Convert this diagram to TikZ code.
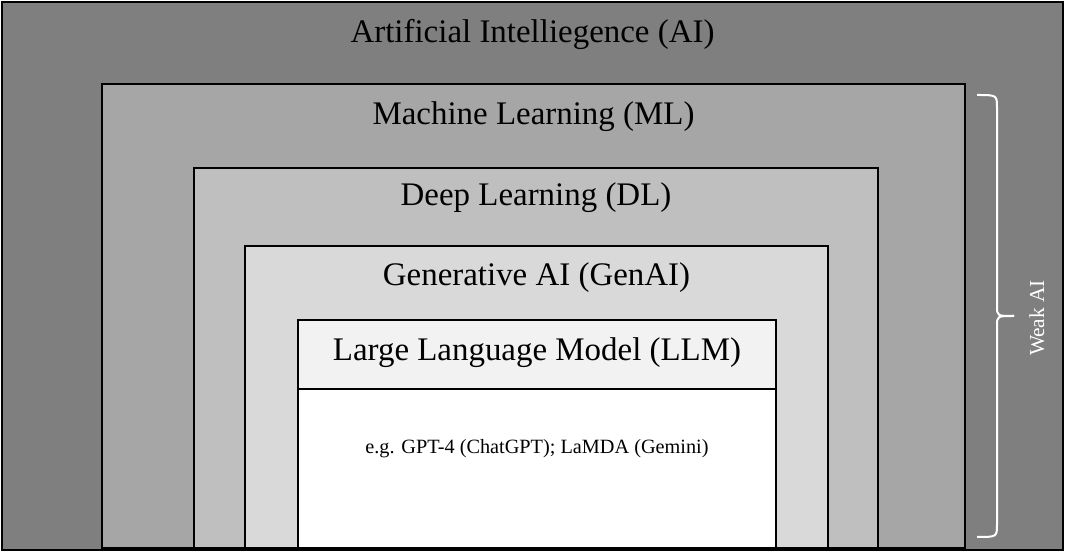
\documentclass[tikz,border=0pt]{standalone}
\usepackage{fontspec}
\setmainfont{Liberation Serif}
\usepackage{tikz}
\usetikzlibrary{positioning}
\definecolor{aigray}{HTML}{7F7F7F}
\definecolor{mlgray}{HTML}{A6A6A6}
\definecolor{dlgray}{HTML}{BFBFBF}
\definecolor{gengray}{HTML}{D9D9D9}
\definecolor{llmgray}{HTML}{F2F2F2}
\tikzset{%
  layer/.style   = {draw, line width=1.5pt, rectangle, inner sep=0pt,
    outer sep=0pt, anchor=north west},
  title/.style   = {font=\fontsize{24.7}{28}\selectfont, anchor=base, inner sep=0pt}, % layer names
  example/.style = {font=\fontsize{15.2}{18}\selectfont, anchor=base, inner sep=0pt},
  weak/.style    = {font=\fontsize{16}{18}\selectfont, text=white, rotate=90,
    anchor=base, inner sep=0pt}
}

\begin{document}
\begin{tikzpicture}[x=0.75pt, y=-0.75pt]

  \useasboundingbox (0,0) rectangle (1065,552);

  % nested layers
  \draw node at (2,2) [layer, fill=aigray, minimum width=795.75pt, minimum height=411pt] (ai) {};
  \draw node at (102,84) [layer, fill=mlgray, minimum width=647.25pt, minimum height=348pt] (ml) {};
  \draw node at (194,168) [layer, fill=dlgray, minimum width=513pt, minimum height=285pt] (dl) {};
  \draw node at (245,246) [layer, fill=gengray, minimum width=437.25pt, minimum height=226.5pt] (genai) {};
  \draw node at (298,320) [layer, fill=llmgray, minimum width=358.5pt, minimum height=51.75pt] (llm) {};
  \draw node at (298,389) [layer, fill=white, minimum width=358.5pt, minimum height=119.25pt] (llmbody) {};

  \draw node at (532.5,42.5) [title] (aiT) {Artificial Intelliegence (AI)};
  \draw node at (533.5,124.5) [title] (mlT) {Machine Learning (ML)};
  \draw node at (536,206) [title] (dlT) {Deep Learning (DL)};
  \draw node at (536.5,286) [title] (genaiT) {Generative AI (GenAI)};
  \draw node at (537,361) [title] (llmT) {Large Language Model (LLM)};
  \draw node at (537,454) [example] (egT) {e.g. GPT-4 (ChatGPT); LaMDA (Gemini)};

  % brace for weak AI
  \coordinate (braceTop) at (977,95);
  \coordinate (braceTip) at (1014,316);
  \coordinate (braceBot) at (977,537);
  \draw[white, line width=1.5pt] (braceTop) .. controls (997,95) .. (997,108) -- (997,306)
    .. controls (997,316) .. (braceTip);
  \draw[white, line width=1.5pt] (braceTip) .. controls (997,316) .. (997,326) -- (997,524)
    .. controls (997,537) .. (braceBot);
  \draw node at (1044,318) [weak] (weakT) {Weak AI};

\end{tikzpicture}
\end{document}
